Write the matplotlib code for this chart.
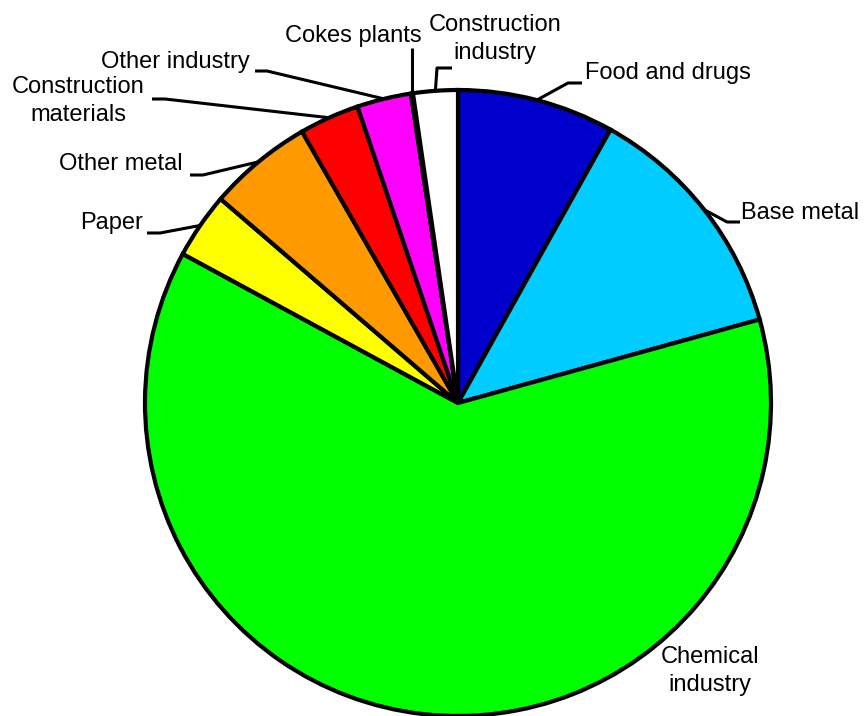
import numpy as np
import matplotlib
matplotlib.use('Agg')
import matplotlib.pyplot as plt

plt.rcParams['font.family'] = ['Liberation Sans', 'DejaVu Sans']

# data (percent shares, clockwise from 12 o'clock)
sectors = ['Food and drugs', 'Base metal', 'Chemical\nindustry', 'Paper', 'Other metal',
           'Construction\nmaterials', 'Other industry', 'Cokes plants', 'Construction\nindustry']
shares = [8.1, 12.6, 62.2, 3.4, 5.4, 3.1, 2.8, 0.1, 2.3]
colors = ['#0000CC', '#00CCFF', '#00FF00', '#FFFF00', '#FF9900',
          '#FF0000', '#FF00FF', '#FFFFFF', '#FFFFFF']

# label layout in pixels (y measured from top): text x, text y, alignment,
# start of leader (next to text), elbow of leader
label_layout = {
    'Food and drugs': (585, 73, 'left', (582, 83), (568, 83)),
    'Base metal': (741, 213, 'left', (740, 222), (727, 222)),
    'Chemical\nindustry': (710, 671, 'center', None, None),
    'Paper': (143, 223, 'right', (147, 233), (160, 233)),
    'Other metal': (183, 164, 'right', (190, 175), (203, 175)),
    'Construction\nmaterials': (78, 101, 'center', (152, 99), (165, 99)),
    'Other industry': (250, 62, 'right', (255, 71), (267, 71)),
    'Cokes plants': (422, 36, 'right', (410, 48), (410, 48)),
    'Construction\nindustry': (495, 39, 'center', (452, 68), (437, 68)),
}

W, H = 865, 716
fig = plt.figure(figsize=(W / 100, H / 100), dpi=100)
ax = fig.add_axes([0, 0, 1, 1])

cx, cy, R = 458, H - 403, 313
wedges, _ = ax.pie(shares, colors=colors, startangle=90, counterclock=False,
                   center=(cx, cy), radius=R, frame=True,
                   wedgeprops=dict(edgecolor='black', linewidth=3.0))
ax.set_xlim(0, W)
ax.set_ylim(0, H)
ax.set_aspect('equal')
ax.axis('off')

for w, name in zip(wedges, sectors):
    tx, ty, ha, start, elbow = label_layout[name]
    ax.text(tx, H - ty, name, ha=ha, va='center', fontsize=17,
            linespacing=1.3, multialignment='center')
    if start is None:
        continue
    mid = np.deg2rad((w.theta1 + w.theta2) / 2)
    ex, ey = cx + R * np.cos(mid), cy + R * np.sin(mid)
    if name == 'Cokes plants':
        xs = [ex, ex]
        ys = [H - start[1], ey]
    else:
        xs = [start[0], elbow[0], ex]
        ys = [H - start[1], H - elbow[1], ey]
    ax.plot(xs, ys, color='black', lw=2.2, solid_capstyle='butt')

fig.savefig('out.png', dpi=100)
